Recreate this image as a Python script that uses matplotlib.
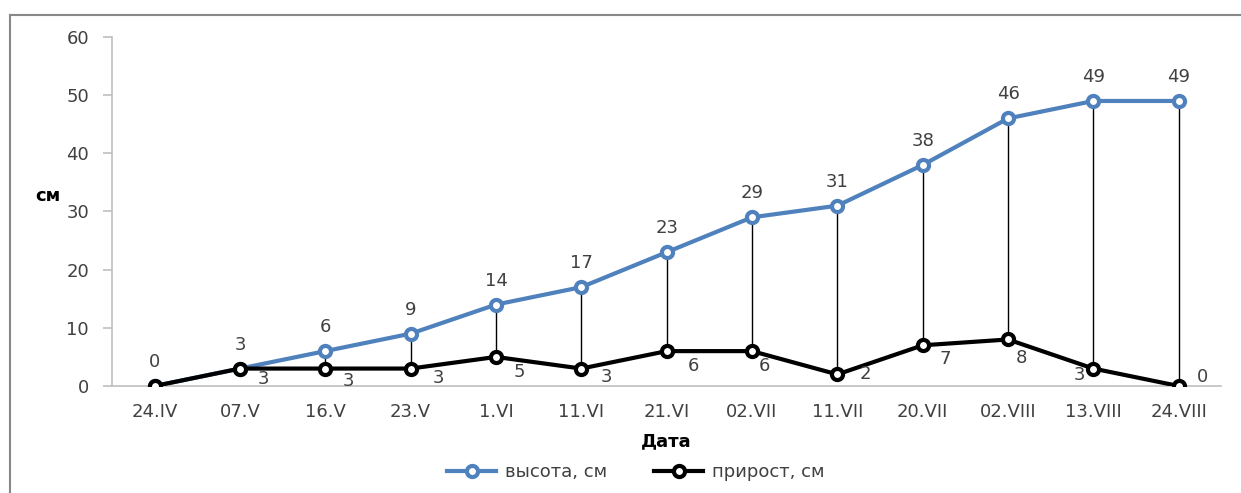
import matplotlib
matplotlib.use('Agg')
from matplotlib import pyplot as plt
from matplotlib.lines import Line2D

plt.rcParams['font.family'] = ['DejaVu Sans']

# даты наблюдений
dates = ['24.IV', '07.V', '16.V', '23.V', '1.VI', '11.VI', '21.VI',
         '02.VII', '11.VII', '20.VII', '02.VIII', '13.VIII', '24.VIII']
# высота растений, см
height = [0, 3, 6, 9, 14, 17, 23, 29, 31, 38, 46, 49, 49]
# прирост, см
growth = [0, 3, 3, 3, 5, 3, 6, 6, 2, 7, 8, 3, 0]

# смещения подписей прироста (в пикселях), подписи двигали вручную
growth_offsets = [None, (23, -10), (23, -12), (28, -9), (23, -15), (25, -8),
                  (27, -15), (12, -15), (28, 0), (23, -14), (13, -19),
                  (-14, -6), (24, 9)]

blue = '#4F81BD'
text_color = '#404040'
axis_color = '#BFBFBF'
fs = 13

fig = plt.figure(figsize=(12.41, 4.93), dpi=100)
ax = fig.add_axes([0.0902, 0.217, 0.894, 0.708])

x = list(range(len(dates)))

# вертикальные линии между рядами
lo = [min(a, b) for a, b in zip(height, growth)]
hi = [max(a, b) for a, b in zip(height, growth)]
ax.vlines(x, lo, hi, colors='black', linewidth=1, zorder=1)

ax.plot(x, height, color=blue, linewidth=3, marker='o', markersize=8,
        markerfacecolor='white', markeredgewidth=3, markeredgecolor=blue,
        zorder=2, label='высота, см')
ax.plot(x, growth, color='black', linewidth=3, marker='o', markersize=8,
        markerfacecolor='white', markeredgewidth=3, markeredgecolor='black',
        zorder=3, label='прирост, см')

for i, v in enumerate(height):
    ax.annotate(str(v), (i, v), xytext=(0, 24), textcoords='offset pixels',
                ha='center', va='center', fontsize=fs, color=text_color)
for i, v in enumerate(growth):
    if growth_offsets[i] is None:
        continue
    ax.annotate(str(v), (i, v), xytext=growth_offsets[i], textcoords='offset pixels',
                ha='center', va='center', fontsize=fs, color=text_color)

ax.set_xlim(-0.5, len(dates) - 0.5)
ax.set_ylim(0, 60)
ax.set_yticks(range(0, 61, 10))
ax.set_xticks(x)
ax.set_xticklabels(dates)
ax.tick_params(axis='y', direction='out', length=6.5, color=axis_color,
               width=1.2, labelsize=fs, labelcolor=text_color, pad=10)
ax.tick_params(axis='x', length=0, labelsize=fs, labelcolor=text_color, pad=12)

for s in ['top', 'right']:
    ax.spines[s].set_visible(False)
for s in ['left', 'bottom']:
    ax.spines[s].set_color(axis_color)
    ax.spines[s].set_linewidth(1.2)

fig.text(666 / 1241, 1 - 441 / 493, 'Дата', fontsize=fs, fontweight='bold',
         ha='center', va='center')
fig.text(48 / 1241, 1 - 196 / 493, 'см', fontsize=fs, fontweight='bold',
         ha='center', va='center')

handles = [
    Line2D([], [], color=blue, linewidth=3, marker='o', markersize=8,
           markerfacecolor='white', markeredgewidth=3, markeredgecolor=blue),
    Line2D([], [], color='black', linewidth=3, marker='o', markersize=8,
           markerfacecolor='white', markeredgewidth=3, markeredgecolor='black'),
]
fig.legend(handles, ['высота, см', 'прирост, см'], loc='center',
           bbox_to_anchor=(636 / 1241, 1 - 472 / 493), ncol=2, frameon=False,
           fontsize=fs, handlelength=2.7, handletextpad=0.5, columnspacing=2.6,
           labelcolor=text_color)

# рамка диаграммы (видны только левая и верхняя стороны)
fig.add_artist(Line2D([10 / 1241, 1.0], [1 - 15 / 493, 1 - 15 / 493],
                      color='#888888', linewidth=1.5, transform=fig.transFigure))
fig.add_artist(Line2D([10 / 1241, 10 / 1241], [0, 1 - 15 / 493],
                      color='#888888', linewidth=1.5, transform=fig.transFigure))

fig.savefig('out.png', dpi=100)
